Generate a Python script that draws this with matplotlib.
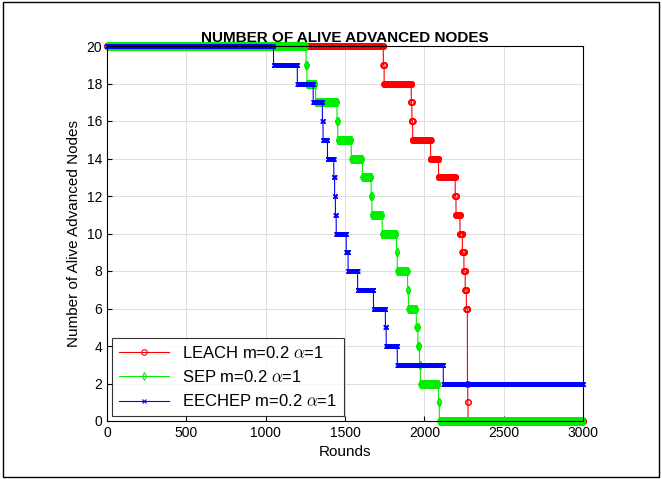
import numpy as np
import matplotlib.pyplot as plt
from matplotlib.patches import Rectangle

plt.rcParams['font.family'] = ['Liberation Sans', 'DejaVu Sans']
plt.rcParams['mathtext.fontset'] = 'cm'

max_rounds = 3000
# (round at which the alive count drops to value)
leach_rounds = [1742, 1747, 1918, 1922, 1927, 2040, 2090, 2195, 2200, 2225, 2240, 2250, 2258, 2265, 2272, 2274, 2276]
leach_vals = [19, 18, 17, 16, 15, 14, 13, 12, 11, 10, 9, 8, 7, 6, 2, 1, 0]
sep_rounds = [1255, 1260, 1315, 1450, 1455, 1540, 1610, 1665, 1670, 1735, 1825, 1830, 1895, 1900, 1950, 1960, 1970, 1975, 2090, 2095]
sep_vals = [19, 18, 17, 16, 15, 14, 13, 12, 11, 10, 9, 8, 7, 6, 5, 4, 3, 2, 1, 0]
eechep_rounds = [1050, 1200, 1300, 1358, 1362, 1390, 1430, 1435, 1440, 1445, 1508, 1520, 1580, 1680, 1755, 1760, 1830, 2120]
eechep_vals = [19, 18, 17, 16, 15, 14, 13, 12, 11, 10, 9, 8, 7, 6, 5, 4, 3, 2]


def alive(change_rounds, vals, start=20):
    r = np.arange(max_rounds + 1)
    y = np.full(r.shape, start, dtype=float)
    for cr, v in zip(change_rounds, vals):
        y[r >= cr] = v
    return r, y


fig = plt.figure(figsize=(6.62, 4.79), dpi=100)
ax = fig.add_axes([107 / 662, 1 - 421 / 479, 476 / 662, 375 / 479])

r, y = alive(leach_rounds, leach_vals)
ax.plot(r, y, color='red', lw=0.8, marker='o', ms=4, mfc='none', mew=0.8,
        label=r'LEACH m=0.2 $\alpha$=1', clip_on=False)
r, y = alive(sep_rounds, sep_vals)
ax.plot(r, y, color='#00ee00', lw=0.8, marker='d', ms=4, mfc='none', mew=0.8,
        label=r'SEP m=0.2 $\alpha$=1', clip_on=False)
r, y = alive(eechep_rounds, eechep_vals)
ax.plot(r, y, color='blue', lw=0.8, marker='x', ms=3.5, mew=0.8,
        label=r'EECHEP m=0.2 $\alpha$=1', clip_on=False)

ax.set_xlim(0, 3000)
ax.set_ylim(0, 20)
ax.set_xticks(range(0, 3001, 500))
ax.set_yticks(range(0, 21, 2))
ax.grid(True, color='#dddddd', lw=0.7)
ax.tick_params(labelsize=10, direction='in')
ax.set_xlabel('Rounds', fontsize=11)
ax.set_ylabel('Number of Alive Advanced Nodes', fontsize=11)
ax.set_title('NUMBER OF ALIVE ADVANCED NODES', fontsize=11, fontweight='bold', pad=3)
leg = ax.legend(loc='lower left', fontsize=12, fancybox=False, edgecolor='black',
                borderaxespad=0.3, handlelength=3)
leg.get_frame().set_linewidth(0.8)
leg.set_zorder(5)

fig.patches.append(Rectangle((0.005, 0.005), 0.99, 0.99, transform=fig.transFigure,
                             fill=False, edgecolor='black', lw=1))
fig.savefig('out.png', dpi=100)
